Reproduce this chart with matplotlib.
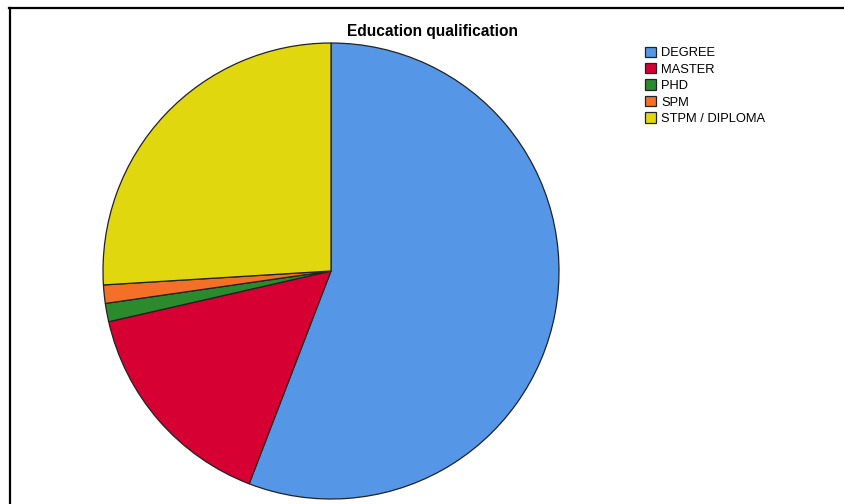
import matplotlib.pyplot as plt
from matplotlib.lines import Line2D

plt.rcParams['font.family'] = ['Liberation Sans', 'DejaVu Sans']

labels = ['DEGREE', 'MASTER', 'PHD', 'SPM', 'STPM / DIPLOMA']
counts = [43, 12, 1, 1, 20]
colors = ['#5596e6', '#d60032', '#2b8a2b', '#f47026', '#e1d70f']

W, H = 845, 504
fig = plt.figure(figsize=(W / 100, H / 100), dpi=100)

# pie centre (331, 271) px, radius 228 px
cx, cy, r = 331, 271, 228
ax = fig.add_axes([(cx - r) / W, (H - cy - r) / H, 2 * r / W, 2 * r / H])
wedges, _ = ax.pie(counts, colors=colors, startangle=90, counterclock=False,
                   wedgeprops=dict(edgecolor='#222222', linewidth=0.9))
ax.set_xlim(-1, 1)
ax.set_ylim(-1, 1)

fig.text(432.5 / W, 1 - 31.5 / H, 'Education qualification', ha='center', va='center',
         fontsize=11.2, fontweight='bold')

fig.legend(wedges, labels, loc='upper left', bbox_to_anchor=(645 / W, 1 - 46.5 / H),
           frameon=False, fontsize=9.3, handlelength=0.85, handleheight=0.85,
           handletextpad=0.4, labelspacing=0.3, borderpad=0, borderaxespad=0)

# frame lines (top and left)
fig.add_artist(Line2D([9.5 / W, 1], [1 - 8 / H, 1 - 8 / H], color='black', lw=1.6))
fig.add_artist(Line2D([10 / W, 10 / W], [0, 1 - 8 / H], color='black', lw=1.6))

fig.savefig('out.png', dpi=100, facecolor='white')
